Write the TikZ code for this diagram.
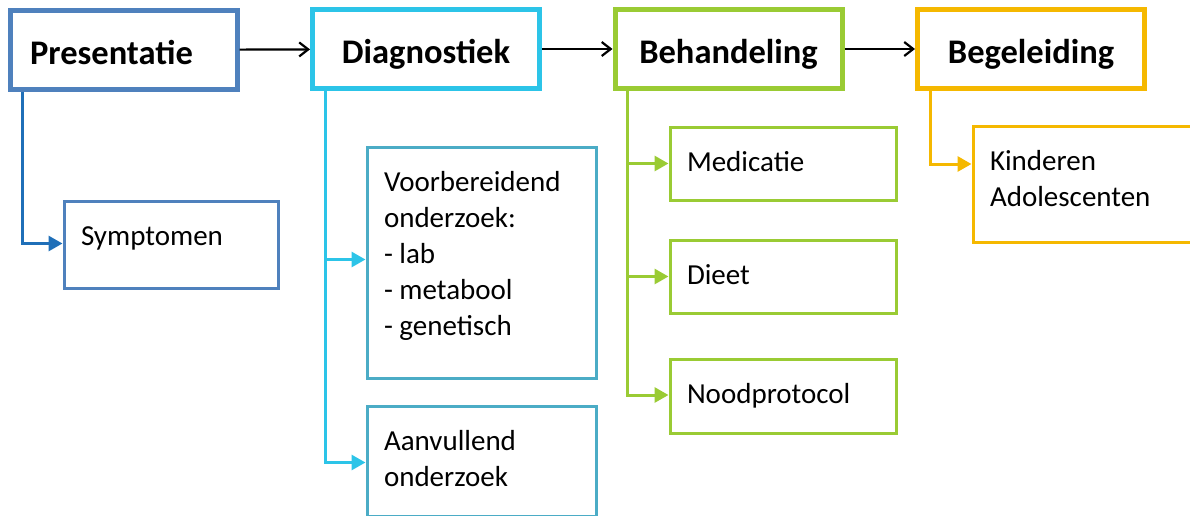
\documentclass[tikz,border=0pt]{standalone}
\usepackage{fontspec}
\setmainfont{Carlito}
\usetikzlibrary{arrows.meta,calc}
\definecolor{cPres}{HTML}{4F81BD}
\definecolor{cPresLine}{HTML}{1F6FB8}
\definecolor{cDiag}{HTML}{2CC4E8}
\definecolor{cDiagSub}{HTML}{4BACC6}
\definecolor{cBeh}{HTML}{9ACB34}
\definecolor{cBeg}{HTML}{F5B800}
\newcommand\subbody[3]{\parbox[c][#1][t]{#2}{\raggedright\leftskip=17pt\baselineskip=36pt\rule{0pt}{44pt}#3\par}}
\tikzset{
  mainbox/.style={draw, line width=5pt, minimum width=227pt, minimum height=79pt,
    inner sep=0pt, font=\fontsize{34.5}{40}\selectfont\bfseries, text height=28pt, text depth=0pt},
  subbox/.style={draw, line width=3pt, inner sep=0pt, anchor=north west,
    font=\fontsize{29}{36}\selectfont},
  flow/.style={line width=2.2pt, -{Straight Barb[length=9pt, width=14pt, line width=2.2pt]}},
  branch/.style={line width=3pt, -{Triangle[length=14pt, width=15pt]}}
}
\begin{document}
\begin{tikzpicture}[x=1pt, y=-1pt]
\useasboundingbox (0,0) rectangle (1190,515);
\clip (0,0) rectangle (1190,515);

% main boxes
\node[mainbox, draw=cPres] (pres) at (123.5,50) {Presentatie\rule{24pt}{0pt}};
\node[mainbox, draw=cDiag] (diag) at (426,49) {Diagnostiek};
\node[mainbox, draw=cBeh] (beh) at (728.5,49) {Behandeling};
\node[mainbox, draw=cBeg] (beg) at (1031,49) {Begeleiding};

% sub boxes
\node[subbox, draw=cPres] (symp) at (62.5,199.5) {\subbody{87pt}{214pt}{Symptomen}};
\node[subbox, draw=cDiagSub] (voor) at (365.5,145.5) {\subbody{231pt}{229pt}{Voorbereidend onderzoek:\\- lab\\- metabool\\- genetisch}};
\node[subbox, draw=cDiagSub] (aanv) at (365.5,404.5) {\subbody{110pt}{229pt}{Aanvullend\\onderzoek}};
\node[subbox, draw=cBeh] (med) at (668.5,125.5) {\subbody{73pt}{226pt}{Medicatie}};
\node[subbox, draw=cBeh] (diet) at (668.5,238.5) {\subbody{73pt}{226pt}{Dieet}};
\node[subbox, draw=cBeh] (nood) at (668.5,357.5) {\subbody{74pt}{226pt}{Noodprotocol}};
\node[subbox, draw=cBeg] (kind) at (971.5,124.5) {\subbody{116pt}{240pt}{Kinderen\\Adolescenten}};

% main flow
\draw[flow] (pres) -- (diag);
\draw[flow] (diag) -- (beh);
\draw[flow] (beh) -- (beg);

% branch coordinates
\coordinate (px) at ([xshift=14.5pt]pres.south west);
\coordinate (dx) at ([xshift=15pt]diag.south west);
\coordinate (bx) at ([xshift=14.5pt]beh.south west);
\coordinate (gx) at ([xshift=15.5pt]beg.south west);

% branches
\draw[branch, draw=cPresLine] (px) |- ([yshift=1pt]symp.west);
\draw[branch, draw=cDiag] (dx) |- ([yshift=3pt]voor.west);
\draw[branch, draw=cDiag] (dx) |- ([yshift=-1.5pt]aanv.west);
\draw[branch, draw=cBeh] (bx) |- (med.west);
\draw[branch, draw=cBeh] (bx) |- (diet.west);
\draw[branch, draw=cBeh] (bx) |- ([yshift=1pt]nood.west);
\draw[branch, draw=cBeg] (gx) |- ([yshift=20pt]kind.west);
\end{tikzpicture}
\end{document}
